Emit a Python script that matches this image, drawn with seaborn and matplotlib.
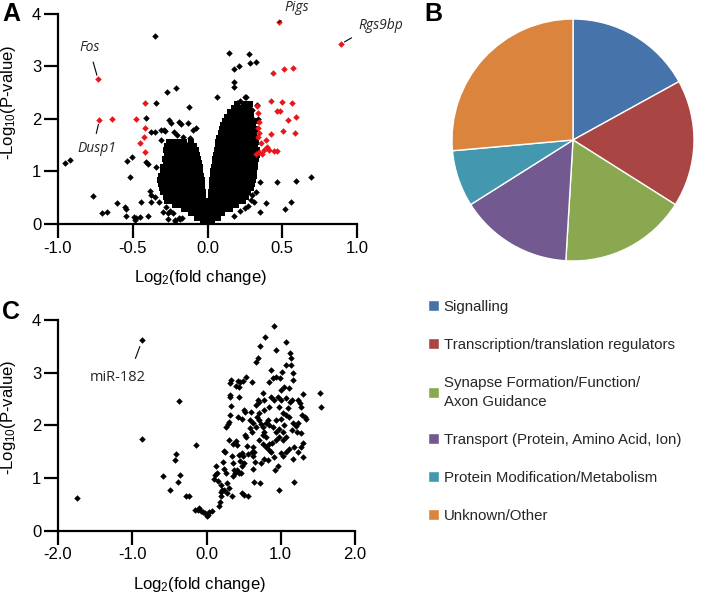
import matplotlib
matplotlib.use("Agg")
import matplotlib.pyplot as plt
import seaborn as sns
import pandas as pd

# ---------------- Panel A: volcano plot (genes) ----------------
# dense cloud, typed row by row: one y per row, x positions
a_row_y = [0.04, 0.12, 0.20, 0.28, 0.36, 0.44, 0.52, 0.60, 0.68, 0.76, 0.84, 0.92, 1.00,
           1.08, 1.16, 1.24, 1.32, 1.40, 1.48, 1.56, 1.64, 1.72, 1.80, 1.88, 1.96, 2.04,
           2.12, 2.20, 2.28]
a_row_x_right = [
    [0.005, 0.018, 0.03],
    [0.008, 0.03, 0.05, 0.07],
    [0.01, 0.033, 0.055, 0.08, 0.10],
    [0.013, 0.035, 0.06, 0.085, 0.11, 0.135, 0.15],
    [0.015, 0.04, 0.065, 0.09, 0.115, 0.14, 0.165, 0.19],
    [0.018, 0.042, 0.067, 0.092, 0.117, 0.142, 0.167, 0.192, 0.217, 0.235],
    [0.021, 0.045, 0.07, 0.095, 0.12, 0.145, 0.17, 0.195, 0.22, 0.245, 0.26],
    [0.024, 0.048, 0.073, 0.098, 0.123, 0.148, 0.173, 0.198, 0.223, 0.248, 0.273],
    [0.027, 0.05, 0.075, 0.1, 0.125, 0.15, 0.175, 0.2, 0.225, 0.25, 0.275, 0.29],
    [0.03, 0.053, 0.078, 0.103, 0.128, 0.153, 0.178, 0.203, 0.228, 0.253, 0.278, 0.30],
    [0.033, 0.057, 0.082, 0.107, 0.132, 0.157, 0.182, 0.207, 0.232, 0.257, 0.282, 0.307],
    [0.036, 0.06, 0.085, 0.11, 0.135, 0.16, 0.185, 0.21, 0.235, 0.26, 0.285, 0.31],
    [0.04, 0.064, 0.089, 0.114, 0.139, 0.164, 0.189, 0.214, 0.239, 0.264, 0.289, 0.314],
    [0.044, 0.068, 0.093, 0.118, 0.143, 0.168, 0.193, 0.218, 0.243, 0.268, 0.293, 0.318],
    [0.048, 0.072, 0.097, 0.122, 0.147, 0.172, 0.197, 0.222, 0.247, 0.272, 0.297, 0.32],
    [0.053, 0.077, 0.102, 0.127, 0.152, 0.177, 0.202, 0.227, 0.252, 0.277, 0.302, 0.325],
    [0.058, 0.082, 0.107, 0.132, 0.157, 0.182, 0.207, 0.232, 0.257, 0.282, 0.307, 0.33],
    [0.063, 0.087, 0.112, 0.137, 0.162, 0.187, 0.212, 0.237, 0.262, 0.287, 0.312, 0.33],
    [0.068, 0.092, 0.117, 0.142, 0.167, 0.192, 0.217, 0.242, 0.267, 0.292, 0.317],
    [0.073, 0.097, 0.122, 0.147, 0.172, 0.197, 0.222, 0.247, 0.272, 0.297, 0.322],
    [0.08, 0.104, 0.129, 0.154, 0.179, 0.204, 0.229, 0.254, 0.279, 0.304, 0.32],
    [0.087, 0.112, 0.137, 0.162, 0.187, 0.212, 0.237, 0.262, 0.287, 0.312],
    [0.095, 0.12, 0.145, 0.17, 0.195, 0.22, 0.245, 0.27, 0.295, 0.318],
    [0.105, 0.13, 0.155, 0.18, 0.205, 0.23, 0.255, 0.28, 0.305],
    [0.115, 0.142, 0.167, 0.192, 0.217, 0.242, 0.267, 0.292, 0.315],
    [0.13, 0.16, 0.185, 0.21, 0.24, 0.265, 0.29],
    [0.15, 0.18, 0.21, 0.235, 0.26, 0.29],
    [0.175, 0.215, 0.25, 0.28],
    [0.2, 0.245, 0.285],
]
a_row_x_left = [
    [-0.005, -0.018, -0.03],
    [-0.008, -0.03, -0.05, -0.07],
    [-0.012, -0.035, -0.06, -0.085, -0.11],
    [-0.016, -0.04, -0.065, -0.09, -0.115, -0.14, -0.16],
    [-0.02, -0.045, -0.07, -0.095, -0.12, -0.145, -0.17, -0.195, -0.22],
    [-0.024, -0.048, -0.073, -0.098, -0.123, -0.148, -0.173, -0.198, -0.223, -0.248, -0.27],
    [-0.028, -0.052, -0.077, -0.102, -0.127, -0.152, -0.177, -0.202, -0.227, -0.252, -0.277],
    [-0.031, -0.055, -0.08, -0.105, -0.13, -0.155, -0.18, -0.205, -0.23, -0.255, -0.28, -0.30],
    [-0.034, -0.058, -0.083, -0.108, -0.133, -0.158, -0.183, -0.208, -0.233, -0.258, -0.283, -0.305],
    [-0.037, -0.062, -0.087, -0.112, -0.137, -0.162, -0.187, -0.212, -0.237, -0.262, -0.287, -0.31],
    [-0.04, -0.065, -0.09, -0.115, -0.14, -0.165, -0.19, -0.215, -0.24, -0.265, -0.29, -0.315],
    [-0.044, -0.068, -0.093, -0.118, -0.143, -0.168, -0.193, -0.218, -0.243, -0.268, -0.293, -0.31],
    [-0.048, -0.072, -0.097, -0.122, -0.147, -0.172, -0.197, -0.222, -0.247, -0.272, -0.297],
    [-0.052, -0.076, -0.101, -0.126, -0.151, -0.176, -0.201, -0.226, -0.251, -0.276, -0.30],
    [-0.056, -0.08, -0.105, -0.13, -0.155, -0.18, -0.205, -0.23, -0.255, -0.28],
    [-0.062, -0.088, -0.113, -0.138, -0.163, -0.188, -0.213, -0.238, -0.263, -0.285],
    [-0.07, -0.1, -0.13, -0.16, -0.185, -0.21, -0.24, -0.27],
    [-0.08, -0.115, -0.15, -0.18, -0.21, -0.245, -0.28],
    [-0.09, -0.13, -0.17, -0.2, -0.235, -0.27],
    [-0.11, -0.155, -0.19, -0.225, -0.26],
    [], [], [], [], [], [], [], [], [],
]

# scattered black genes outside the dense cloud
a_black_x = [-0.354, 0.142, 0.277, 0.178, 0.214, 0.282, 0.327, -0.214, -0.273, -0.347, 0.063,
             0.178, 0.176, 0.257, -0.124, -0.412, -0.955, -0.921, -0.768, -0.705, -0.673,
             -0.604, -0.552, -0.543, -0.518, -0.541, -0.507, -0.547, -0.493, -0.482, -0.477,
             -0.453, -0.399, -0.448, -0.378, -0.385, -0.376, -0.327, -0.349, -0.412, -0.399,
             -0.376, -0.349, -0.313, -0.282, -0.342, -0.264, -0.264, -0.218, -0.187, -0.173,
             0.390, 0.462, 0.520, 0.561, 0.592, 0.694, 0.349, 0.313, 0.351, 0.322, 0.232,
             0.300, 0.288, 0.196, 0.215, 0.250, -0.257, -0.243, -0.189, -0.180, -0.128,
             -0.095, -0.074, -0.223, -0.290, -0.311, -0.155, -0.230, -0.250, -0.280, -0.300,
             -0.190, -0.220, 0.270, 0.290, 0.300, 0.220, 0.250, 0.180, -0.165, -0.205,
             -0.115, 0.330, 0.340]
a_black_y = [3.58, 3.24, 3.23, 2.94, 3.00, 3.05, 3.07, 2.59, 2.51, 2.29, 2.41,
             2.70, 2.61, 2.42, 2.22, 2.01, 1.15, 1.22, 0.54, 0.20, 0.23,
             0.39, 0.32, 0.28, 0.90, 1.20, 1.28, 0.15, 0.13, 0.08, 0.11,
             0.14, 0.15, 0.41, 0.42, 0.63, 0.55, 0.42, 0.51, 1.18, 1.14,
             1.75, 1.75, 1.78, 1.77, 1.09, 0.09, 0.20, 0.06, 0.09, 0.11,
             0.39, 0.80, 0.28, 0.41, 0.82, 0.89, 0.80, 0.42, 0.23, 0.61, 1.75,
             2.16, 2.04, 2.30, 2.34, 2.41, 1.98, 1.92, 1.94, 1.90, 1.92,
             1.79, 1.82, 1.75, 1.79, 1.60, 1.56, 0.20, 0.25, 0.33, 0.22,
             0.12, 0.08, 0.35, 0.45, 0.55, 0.25, 0.30, 0.15, 1.66, 1.70,
             1.64, 2.26, 2.00]

# significant genes (red)
a_red_x = [-0.732, -0.723, -0.640, -0.477, -0.419, -0.421, -0.426, -0.453, -0.417, 0.475,
           0.892, 0.435, 0.514, 0.574, 0.428, 0.498, 0.568, 0.468, 0.486, 0.536, 0.592,
           0.502, 0.583, 0.423, 0.333, 0.340, 0.345, 0.336, 0.345, 0.338, 0.358, 0.390,
           0.345, 0.378, 0.412, 0.446, 0.462, 0.367, 0.327, 0.401]
a_red_y = [2.75, 1.97, 1.99, 1.99, 2.30, 1.82, 1.65, 1.53, 1.37, 3.83,
           3.42, 2.87, 2.94, 2.97, 2.34, 2.31, 2.30, 2.15, 2.15, 1.97, 2.04,
           1.77, 1.72, 1.71, 2.25, 2.10, 1.94, 1.82, 1.72, 1.66, 1.54, 1.59,
           1.37, 1.41, 1.41, 1.39, 1.39, 1.33, 1.33, 1.47]

a_labels = ["Fos", "Dusp1", "Pigs", "Rgs9bp"]
a_label_x = [-0.732, -0.723, 0.475, 0.892]
a_label_y = [2.75, 1.97, 3.83, 3.42]

# ---------------- Panel B: pie of gene categories ----------------
categories = ["Signalling", "Transcription/translation regulators",
              "Synapse Formation/Function/\nAxon Guidance",
              "Transport (Protein, Amino Acid, Ion)",
              "Protein Modification/Metabolism", "Unknown/Other"]
category_counts = [9, 9, 9, 8, 4, 14]
category_colors = ["#4673A9", "#A94643", "#8AA84F", "#72598F", "#4398AF", "#DA843E"]

# ---------------- Panel C: volcano plot (miRNAs) ----------------
c_x = [-1.75, -0.865, -0.874, -0.369, -0.581, -0.495, -0.414, -0.423, -0.356, -0.378, -0.270,
       -0.234, -0.144, -0.153, -0.117, -0.095, -0.072, -0.045, -0.018, 0.0, 0.036, 0.068, 0.014,
       0.171, 0.180, 0.194, 0.131, 0.135, 0.117, 0.194, 0.207, 0.198, 0.239, 0.275, 0.306,
       0.338, 0.275, 0.225, 0.230, 0.261, 0.252, 0.230, 0.261, 0.284, 0.297, 0.320, 0.320,
       0.324, 0.315, 0.306, 0.351, 0.338, 0.351, 0.374, 0.360, 0.378, 0.419, 0.450, 0.486,
       0.396, 0.441, 0.432, 0.423, 0.477, 0.396, 0.414, 0.432, 0.450, 0.414, 0.432, 0.464,
       0.477, 0.500, 0.477, 0.509, 0.559, 0.532, 0.509, 0.523, 0.523, 0.532, 0.545, 0.486,
       0.554, 0.477, 0.613, 0.586, 0.613, 0.622, 0.644, 0.608, 0.631, 0.658, 0.622, 0.635,
       0.725, 0.667, 0.689, 0.716, 0.788, 0.914, 0.937, 1.072, 1.131, 1.140, 1.144, 1.162,
       1.072, 0.689, 0.712, 0.667, 0.757, 0.770, 0.779, 0.712, 0.676, 0.703, 0.734, 0.667,
       0.757, 0.779, 0.802, 0.829, 0.847, 0.892, 0.757, 0.802, 0.712, 0.757, 0.802, 0.847,
       0.883, 0.937, 0.838, 0.779, 0.734, 0.824, 0.869, 0.914, 0.847, 0.892, 0.869, 0.937,
       0.995, 1.018, 1.050, 1.005, 0.959, 0.869, 0.914, 0.847, 0.973, 1.027, 1.072, 1.005,
       0.937, 1.050, 0.973, 1.027, 1.117, 1.095, 1.153, 1.131, 1.162, 1.117, 1.230, 1.261,
       1.297, 1.275, 1.288, 1.320, 1.342, 1.239, 1.207, 1.162, 1.153, 1.221, 1.275, 1.297,
       1.275, 1.230, 1.185, 1.117, 1.072, 1.027, 1.005, 1.162, 1.297, 1.176, 0.982, 0.919,
       0.964, 1.523, 1.545, 1.072, 1.005, 1.072, 1.027, 0.982, 0.937, 0.104, 0.150, 0.600,
       0.630, 0.580, 0.315, 0.330]
c_y = [0.63, 3.62, 1.75, 2.46, 1.04, 0.78, 1.46, 1.35, 1.06, 0.93, 0.66,
       0.66, 1.62, 0.39, 0.39, 0.44, 0.38, 0.35, 0.33, 0.28, 0.35, 0.38, 0.30,
       0.46, 0.55, 0.65, 1.22, 1.09, 1.06, 0.87, 0.78, 0.74, 0.77, 0.71, 0.82,
       0.65, 0.91, 1.31, 1.18, 1.09, 1.50, 1.52, 1.96, 2.03, 2.07, 2.58, 2.53,
       2.37, 2.20, 1.72, 1.65, 1.41, 1.28, 1.15, 1.04, 1.09, 2.84, 2.83, 2.84,
       2.75, 2.73, 2.54, 2.15, 2.13, 1.71, 1.63, 1.44, 1.32, 1.15, 1.10, 1.09,
       1.22, 1.28, 0.71, 0.68, 0.65, 2.92, 2.29, 2.26, 1.82, 1.77, 1.61, 1.41,
       1.45, 1.48, 2.83, 2.10, 1.88, 1.59, 1.50, 1.50, 1.42, 1.31, 1.18, 0.93,
       0.91, 3.21, 3.27, 3.51, 3.68, 3.89, 3.43, 3.59, 3.37, 3.27, 3.15, 2.99,
       3.15, 2.48, 2.45, 2.39, 2.61, 2.48, 2.29, 2.23, 2.16, 2.10, 2.03, 1.97,
       1.97, 1.88, 2.05, 2.10, 2.01, 1.97, 1.82, 1.78, 1.72, 1.64, 1.59, 1.64,
       1.66, 1.72, 1.53, 1.37, 1.28, 1.34, 1.49, 1.39, 2.83, 2.89, 3.05, 2.92,
       2.89, 3.02, 2.73, 2.67, 2.54, 2.54, 2.48, 2.35, 2.35, 2.23, 2.20, 2.13,
       2.10, 2.01, 1.94, 1.88, 2.16, 2.32, 2.48, 2.45, 2.86, 2.70, 2.48, 2.43,
       2.59, 2.35, 2.20, 2.15, 2.13, 2.04, 1.99, 2.05, 1.91, 1.88, 1.85, 1.66,
       1.59, 1.50, 1.59, 1.56, 1.50, 1.41, 1.47, 1.37, 1.39, 0.93, 0.78, 1.15,
       1.22, 2.61, 2.34, 2.51, 2.48, 1.78, 1.72, 1.78, 1.88, 0.99, 0.95, 2.25,
       2.05, 1.95, 2.80, 2.86]

c_label = "miR-182"
c_label_x = -0.865
c_label_y = 3.62

# ---------------- figure ----------------
sns.set_theme(style="ticks")
plt.rcParams["font.family"] = ["Liberation Sans", "DejaVu Sans"]
plt.rcParams["mathtext.default"] = "regular"
plt.rcParams["axes.unicode_minus"] = False

fig = plt.figure(figsize=(7.14, 5.95), dpi=100)
ax_a = fig.add_axes([58 / 714, 1 - 224 / 595, 299 / 714, 210.5 / 595])
ax_c = fig.add_axes([58 / 714, 1 - 530.7 / 595, 297 / 714, 210.7 / 595])
ax_b = fig.add_axes([452 / 714, 1 - 261 / 595, 242 / 714, 242 / 595])

cloud_x = []
cloud_y = []
for y, xs_r, xs_l in zip(a_row_y, a_row_x_right, a_row_x_left):
    cloud_x += xs_r + xs_l
    cloud_y += [y] * (len(xs_r) + len(xs_l))
df_cloud = pd.DataFrame({"lfc": cloud_x, "p": cloud_y})
df_black = pd.DataFrame({"lfc": a_black_x, "p": a_black_y})
df_red = pd.DataFrame({"lfc": a_red_x, "p": a_red_y})
df_c = pd.DataFrame({"lfc": c_x, "p": c_y})

pt_kw = dict(marker="D", s=11, linewidth=0, legend=False, clip_on=False)
# the packed cloud is drawn with small squares so neighbouring genes merge into a solid mass
sns.scatterplot(data=df_cloud, x="lfc", y="p", color="black", ax=ax_a,
                marker="s", s=16, linewidth=0, legend=False, clip_on=False)
sns.scatterplot(data=df_black, x="lfc", y="p", color="black", ax=ax_a, **pt_kw)
sns.scatterplot(data=df_red, x="lfc", y="p", color="#E8161B", ax=ax_a, **pt_kw)
sns.scatterplot(data=df_c, x="lfc", y="p", color="black", ax=ax_c, **pt_kw)


def style_volcano(ax, xticks, label_y):
    ax.set_ylim(0, 4)
    ax.set_xticks(xticks)
    ax.set_xticklabels([f"{t:.1f}" for t in xticks])
    ax.set_yticks([0, 1, 2, 3, 4])
    ax.set_xlim(xticks[0], xticks[-1])
    sns.despine(ax=ax)
    for s in ["left", "bottom"]:
        ax.spines[s].set_linewidth(1.6)
        ax.spines[s].set_color("black")
    ax.tick_params(width=1.6, length=10, color="black", labelsize=12, pad=2, labelcolor="black")
    ax.set_xlabel("Log$_2$(fold change)", fontsize=12, color="black")
    ax.set_ylabel("-Log$_{10}$(P-value)", fontsize=12, color="black")
    ax.xaxis.set_label_coords(0.475, -0.21)
    ax.yaxis.set_label_coords(-0.135, label_y)


style_volcano(ax_a, [-1.0, -0.5, 0.0, 0.5, 1.0], 0.58)
style_volcano(ax_c, [-2.0, -1.0, 0.0, 1.0, 2.0], 0.54)

# gene labels with leader lines
a_offsets = [(-8, 32), (-3, -28), (18, 15), (40, 19)]
a_relpos = [(0.55, 0.0), (0.45, 1.0), (0.2, 0.0), (0.05, 0.0)]
for name, x, y, off, rp in zip(a_labels, a_label_x, a_label_y, a_offsets, a_relpos):
    ax_a.annotate(name, (x, y), xytext=off, textcoords="offset pixels",
                  ha="center", va="center", fontsize=10, style="italic",
                  family=["Open Sans", "DejaVu Sans"],
                  arrowprops=dict(arrowstyle="-", color="black", lw=0.8,
                                  relpos=rp, shrinkA=3, shrinkB=3))
ax_c.annotate(c_label, (c_label_x, c_label_y), xytext=(-25, -37), textcoords="offset pixels",
              ha="center", va="center", fontsize=10.5, family=["Open Sans", "DejaVu Sans"],
              arrowprops=dict(arrowstyle="-", color="black", lw=0.8,
                              relpos=(0.75, 1.0), shrinkA=6, shrinkB=5))

# pie
wedges, _ = ax_b.pie(category_counts, colors=category_colors, startangle=90,
                     counterclock=False, radius=1)
ax_b.set_xlim(-1, 1)
ax_b.set_ylim(-1, 1)
ax_b.set_aspect("equal")

leg = fig.legend(wedges, categories, loc="upper left", bbox_to_anchor=(428 / 714, 1 - 300 / 595),
                 frameon=False, fontsize=10.8, handlelength=0.75, handleheight=0.75,
                 handletextpad=0.3, labelspacing=1.6, borderpad=0, borderaxespad=0)
for t in leg.get_texts():
    t.set_linespacing(1.45)

# panel letters
for letter, x, y in [("A", 2, 2), ("B", 424, 2), ("C", 2, 300)]:
    fig.text(x / 714, 1 - y / 595, letter, fontsize=18, fontweight="bold",
             ha="left", va="top", color="black")

fig.savefig("out.png", dpi=100)
